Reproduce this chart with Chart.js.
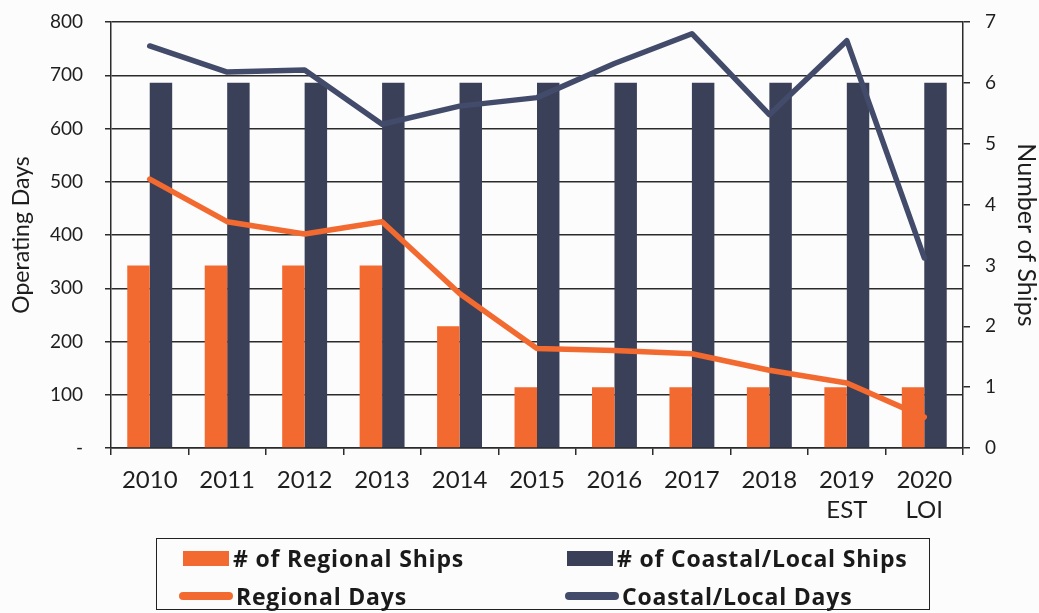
<!DOCTYPE html>
<html>
<head>
<meta charset="utf-8">
<script src="https://cdn.jsdelivr.net/npm/chart.js@4.4.1/dist/chart.umd.min.js"></script>
<style>
  html, body { margin:0; padding:0; background:#fcfcfc; }
  #wrap { position:relative; width:1039px; height:613px; }
  #c { position:absolute; left:0; top:0; }
  #legend { position:absolute; left:156px; top:538px; width:774px; height:72px;
            border:1.5px solid #222; box-sizing:border-box; font-family:"Open Sans", Lato, sans-serif;
            font-weight:bold; font-size:23px; letter-spacing:0.8px; color:#1a1a1a; }
  .item { position:absolute; display:flex; align-items:center; white-space:nowrap; }
  .sw-box { width:46px; height:15px; margin-right:4px; }
  .sw-line { width:54px; height:8px; border-radius:4px; margin-right:3px; }
</style>
</head>
<body>
<div id="wrap">
  <canvas id="c" width="1039" height="613"></canvas>
  <div id="legend"></div>
</div>
<script>
const categories = ['2010','2011','2012','2013','2014','2015','2016','2017','2018',['2019','EST'],['2020','LOI']];
const regionalShips = [3,3,3,3,2,1,1,1,1,1,1];
const coastalShips  = [6,6,6,6,6,6,6,6,6,6,6];
const regionalDays  = [505,425,402,425,290,187,183,177,146,122,58];
const coastalDays   = [755,706,710,608,642,658,722,778,626,765,357];
const leftTicks  = [0,100,200,300,400,500,600,700,800];
const rightTicks = [0,1,2,3,4,5,6,7];

const ORANGE = '#f36a30';
const NAVY_BAR = '#3b4059';
const NAVY_LINE = '#434b6b';
const GRID = '#2b2b2b';
const TXT = '#1e1e1e';
const FONT = 'Lato, "Open Sans", sans-serif';

const chart = new Chart(document.getElementById('c'), {
  data: {
    labels: categories,
    datasets: [
      { type:'line', label:'Coastal/Local Days', data:coastalDays, yAxisID:'yL', order:0,
        borderColor:NAVY_LINE, backgroundColor:NAVY_LINE, borderWidth:5.5, pointRadius:0,
        borderCapStyle:'round', borderJoinStyle:'round', tension:0, legendKind:'line' },
      { type:'line', label:'Regional Days', data:regionalDays, yAxisID:'yL', order:0,
        borderColor:ORANGE, backgroundColor:ORANGE, borderWidth:5.5, pointRadius:0,
        borderCapStyle:'round', borderJoinStyle:'round', tension:0, legendKind:'line' },
      { type:'bar', label:'# of Regional Ships', data:regionalShips, yAxisID:'yR', order:1,
        backgroundColor:ORANGE, categoryPercentage:0.58, barPercentage:1.0, legendKind:'box' },
      { type:'bar', label:'# of Coastal/Local Ships', data:coastalShips, yAxisID:'yR', order:1,
        backgroundColor:NAVY_BAR, categoryPercentage:0.58, barPercentage:1.0, legendKind:'box' }
    ]
  },
  options: {
    responsive:false, animation:false,
    layout:{ padding:{ left:0, right:0, top:22, bottom:83 } },
    plugins:{ legend:{ display:false }, tooltip:{ enabled:false } },
    scales:{
      x:{
        offset:true,
        grid:{ offset:true, drawOnChartArea:false, drawTicks:true, tickLength:7, color:GRID, lineWidth:1.5 },
        border:{ display:true, color:GRID, width:1.5 },
        ticks:{ color:TXT, font:{ family:FONT, size:24, lineHeight:1.25 }, padding:10, maxRotation:0, autoSkip:false },
        afterFit:(s)=>{ s.height = 82; s.paddingLeft = 0; s.paddingRight = 0; }
      },
      yL:{
        position:'left', min:0, max:800,
        afterBuildTicks:(s)=>{ s.ticks = leftTicks.map(v=>({value:v})); },
        grid:{ color:GRID, lineWidth:1.5, tickLength:6, drawTicks:true },
        border:{ display:true, color:GRID, width:1.5 },
        ticks:{ color:TXT, font:{ family:FONT, size:19 }, padding:22,
                callback:(v)=> v===0 ? '-' : String(v) },
        title:{ display:true, text:'Operating Days', color:TXT, font:{ family:FONT, size:23 }, padding:{top:8,bottom:0} },
        afterFit:(s)=>{ s.width = 111; s.paddingTop = 0; s.paddingBottom = 0; }
      },
      yR:{
        position:'right', min:0, max:7,
        afterBuildTicks:(s)=>{ s.ticks = rightTicks.map(v=>({value:v})); },
        grid:{ drawOnChartArea:false, drawTicks:true, tickLength:7, color:GRID, lineWidth:1.5 },
        border:{ display:true, color:GRID, width:1.5 },
        ticks:{ color:TXT, font:{ family:FONT, size:19 }, padding:15 },
        title:{ display:true, text:'Number of Ships', color:TXT, font:{ family:FONT, size:25, lineHeight:1.0 }, padding:{top:0,bottom:0} },
        afterFit:(s)=>{ s.width = 76; s.paddingTop = 0; s.paddingBottom = 0; }
      }
    }
  }
});

// HTML legend built from the datasets
const legendEl = document.getElementById('legend');
const order = [2,3,1,0];
const pos = [ {x:26,y:19}, {x:410,y:19}, {x:22,y:57}, {x:408,y:57} ];
order.forEach((di,i)=>{
  const ds = chart.data.datasets[di];
  const it = document.createElement('div');
  it.className = 'item';
  it.style.left = pos[i].x + 'px';
  it.style.top = (pos[i].y - 14) + 'px';
  it.style.height = '28px';
  const sw = document.createElement('span');
  sw.className = ds.legendKind === 'box' ? 'sw-box' : 'sw-line';
  sw.style.background = ds.legendKind === 'box' ? ds.backgroundColor : ds.borderColor;
  const tx = document.createElement('span');
  tx.textContent = ds.label;
  it.appendChild(sw); it.appendChild(tx);
  legendEl.appendChild(it);
});
</script>
</body>
</html>
